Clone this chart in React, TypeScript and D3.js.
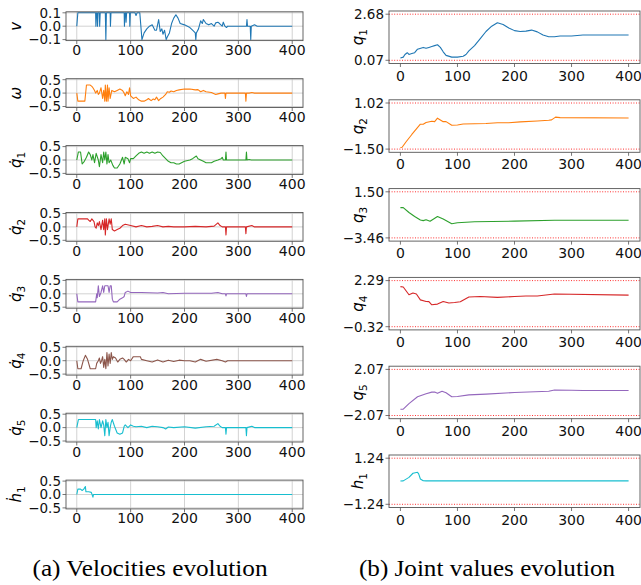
import React from 'react';
import * as d3 from 'd3';

// [step, value] pairs
const vel_v = [[0,0],[2,0.1],[35,0.1],[35.5,0],[36.5,0.1],[38,0.1],[38.5,0],[39.5,0.1],[42,0.1],[42.5,0],[43.5,0.1],[53,0.1],[54,-0.1],[55,0.1],[62,0.1],[62.5,0],[63.5,0.1],[88,0.1],[88.5,0],[89.5,0.1],[91,0.1],[91.5,0.03],[92.5,0.1],[98,0.1],[98.5,0],[99.5,0.1],[108,0.1],[110,0.08],[112,0.1],[117,0.1],[121,-0.1],[125,-0.05],[130,-0.02],[135,0],[140,0.01],[145,-0.03],[148,-0.03],[152,0.05],[155,-0.04],[158,-0.02],[160,-0.06],[163,-0.03],[166,-0.1],[168,-0.08],[172,-0.05],[176,0.02],[180,0.06],[184,0.085],[188,0.06],[192,0.02],[200,0.01],[210,-0.01],[215,-0.03],[220,-0.05],[221,-0.1],[222,-0.05],[226,-0.02],[230,0.04],[233,0.02],[235,0.05],[240,0.02],[245,0.01],[250,0.02],[255,0],[258,0.025],[262,0.03],[265,0.02],[270,0],[272,0.03],[275,0],[278,-0.01],[280,0],[315,0],[316,0.05],[317,0],[322,0],[323,-0.1],[324,0],[330,0.01],[335,0],[400,0]];
const vel_w = [[0,0],[2,-0.3],[15,-0.3],[18,0.3],[25,0.3],[28,0.25],[30,0.2],[33,0.1],[35,0],[38,0.1],[40,-0.05],[42,0],[45,0.2],[48,-0.2],[50,0.1],[52,-0.3],[53,0.3],[55,-0.3],[57,0.3],[58,-0.3],[60,0.2],[62,-0.2],[65,0.1],[70,0.05],[75,0.1],[80,0.15],[85,0.1],[88,0],[90,-0.1],[93,0.05],[96,-0.05],[98,0.2],[100,-0.1],[105,-0.2],[110,-0.15],[115,-0.25],[120,-0.3],[125,-0.3],[130,-0.25],[133,-0.2],[138,-0.28],[142,-0.22],[145,-0.25],[148,-0.15],[152,-0.28],[156,-0.2],[160,-0.15],[165,-0.05],[168,0.05],[172,0.03],[175,0.08],[180,0.05],[185,0.1],[190,0.12],[200,0.15],[210,0.15],[220,0.12],[225,0.13],[230,0.05],[235,0.1],[240,0.05],[250,0.02],[258,-0.05],[262,-0.03],[268,0],[275,0],[276,-0.2],[277,0],[313,0],[314,-0.3],[315,0],[320,0],[325,0.02],[330,0],[400,0]];
const vel_q1 = [[0,0],[3,0.3],[7,0.3],[10,-0.15],[14,-0.05],[18,0.1],[22,0.3],[25,0.2],[28,0],[30,0.2],[33,-0.1],[36,0.25],[40,0],[42,-0.25],[45,0.2],[48,-0.1],[50,0.3],[52,0],[54,0.3],[56,-0.15],[58,0.2],[60,-0.1],[63,0],[67,-0.2],[70,-0.3],[75,-0.3],[80,-0.15],[85,0.1],[88,-0.15],[90,0.1],[95,0.05],[98,-0.1],[100,0.05],[105,0.05],[110,0.15],[115,0.25],[120,0.3],[125,0.25],[130,0.3],[135,0.25],[140,0.3],[145,0.25],[150,0.3],[155,0.28],[160,0.15],[165,0.05],[170,-0.05],[175,-0.1],[180,-0.1],[185,-0.15],[190,-0.15],[200,-0.05],[210,0],[215,0.05],[222,0.15],[225,0.05],[230,0],[235,-0.05],[240,-0.1],[250,-0.1],[255,-0.05],[262,0],[268,0.05],[270,0.1],[272,0],[276,0],[277,0.3],[278,0],[314,0],[315,0.3],[316,0],[320,0.02],[324,0],[400,0]];
const vel_q2 = [[0,0],[2,0.3],[20,0.3],[22,0.25],[25,0.2],[28,0.3],[32,0.2],[34,0],[36,-0.05],[38,0.15],[40,0.05],[42,0.2],[45,-0.1],[48,0.25],[50,-0.1],[52,0.3],[53,-0.3],[55,0.3],[57,-0.1],[60,0.3],[62,0.1],[64,0.3],[66,-0.1],[70,-0.15],[75,-0.1],[80,-0.05],[85,0.05],[90,0.1],[100,0.05],[110,0],[120,0.05],[130,0],[140,0.02],[150,0.05],[160,0],[170,0.02],[180,0],[200,0],[220,0.02],[240,0],[255,0.03],[262,0.15],[266,0.05],[270,0],[276,0],[277,-0.3],[278,0],[313,0],[314,-0.25],[315,0],[325,0.05],[330,0],[400,0]];
const vel_q3 = [[0,0],[2,-0.3],[35,-0.3],[37,0],[38,-0.15],[40,0.3],[42,-0.1],[45,0.05],[48,0.3],[50,0.05],[52,0.3],[58,0.3],[60,0.05],[62,0.3],[64,0.3],[66,-0.2],[68,-0.3],[75,-0.3],[80,-0.2],[85,-0.15],[88,-0.1],[90,0.05],[95,0.1],[100,0.05],[110,0.05],[120,0.05],[150,0.03],[160,0.05],[170,0],[200,0.02],[250,0.02],[262,0.05],[270,0],[276,0],[277,-0.08],[278,0],[314,0],[315,-0.1],[316,0],[400,0]];
const vel_q4 = [[0,0],[2,-0.3],[8,-0.3],[12,0],[16,0.2],[20,0.05],[25,-0.3],[35,-0.3],[37,-0.1],[40,0],[42,0.1],[44,-0.1],[46,0],[48,0.15],[50,-0.25],[52,0.05],[54,-0.3],[56,0.3],[58,-0.2],[60,0.25],[62,-0.1],[64,0.3],[66,0.05],[68,0.15],[72,0.1],[76,-0.05],[80,0.05],[85,0.1],[88,0.05],[92,-0.05],[96,0.05],[100,0],[105,0.15],[110,0.15],[118,0.15],[120,0.05],[130,0],[140,-0.05],[150,0.03],[160,-0.05],[170,0.02],[180,-0.03],[190,0.02],[200,0],[210,0],[220,-0.05],[230,0.05],[240,-0.02],[260,0.05],[270,0],[276,-0.05],[280,0],[400,0]];
const vel_q5 = [[0,0],[3,0.3],[35,0.3],[36,0],[38,0.25],[40,-0.05],[42,0.3],[45,0],[48,0.25],[50,0.1],[52,-0.3],[54,0.3],[56,0],[58,0.2],[60,-0.3],[62,0],[64,0.2],[66,0.3],[70,0.05],[75,-0.2],[80,-0.25],[85,-0.2],[88,0.05],[90,0.1],[95,0],[100,0.1],[105,0.05],[110,0.03],[120,0.05],[130,0],[140,0.05],[150,0.03],[160,0],[165,-0.05],[170,0.02],[180,0],[200,0.03],[220,-0.02],[240,0.03],[255,0.05],[262,0.15],[266,0.05],[270,0],[276,0],[277,-0.25],[278,0],[314,0],[315,-0.3],[316,0],[325,0.05],[330,0],[400,0]];
const vel_h1 = [[0,0],[2,0.2],[7,0.2],[10,0.15],[13,0.2],[16,0.3],[17,0.1],[22,0.1],[27,0.08],[30,-0.1],[31,0],[400,0]];

const joint_q1 = [[0,0.2],[5,0.25],[8,0.4],[12,0.5],[15,0.4],[20,0.45],[25,0.5],[30,0.7],[40,0.8],[45,0.75],[50,0.8],[55,0.85],[60,0.9],[65,0.95],[70,0.8],[75,0.55],[80,0.35],[90,0.25],[100,0.25],[110,0.3],[115,0.4],[120,0.6],[130,0.9],[140,1.3],[150,1.7],[160,2.0],[170,2.2],[180,2.1],[190,1.9],[200,1.75],[210,1.7],[220,1.72],[230,1.78],[240,1.68],[250,1.5],[260,1.4],[270,1.4],[280,1.45],[300,1.45],[320,1.5],[400,1.5]];
const joint_q2 = [[0,-1.41],[3,-1.4],[10,-1.1],[20,-0.7],[35,-0.14],[40,-0.14],[45,-0.05],[55,0.02],[60,0],[65,0.19],[75,0],[80,0],[90,-0.2],[100,-0.18],[110,-0.13],[150,-0.1],[170,-0.06],[190,-0.06],[210,-0.01],[240,0.04],[260,0.08],[265,0.1],[272,0.25],[280,0.22],[400,0.2]];
const joint_q3 = [[0,-0.2],[5,-0.2],[15,-0.73],[25,-1.16],[35,-1.53],[40,-1.6],[45,-1.5],[52,-1.66],[65,-1.16],[75,-1.43],[90,-1.93],[100,-1.83],[130,-1.73],[200,-1.66],[270,-1.56],[400,-1.56]];
const joint_q4 = [[0,1.95],[5,1.93],[15,1.49],[22,1.59],[28,1.53],[35,1.2],[45,1.11],[50,1.1],[55,0.92],[65,0.96],[75,1.11],[85,1.02],[95,1.05],[105,1.09],[120,1.36],[140,1.39],[170,1.34],[200,1.39],[220,1.42],[240,1.42],[270,1.53],[400,1.47]];
const joint_q5 = [[0,-1.51],[5,-1.5],[15,-1.0],[30,-0.39],[45,-0.11],[55,0.03],[60,0.03],[65,-0.08],[73,0.11],[80,-0.03],[90,-0.39],[100,-0.36],[120,-0.22],[150,-0.15],[200,0],[260,0.11],[270,0.22],[300,0.2],[320,0.17],[400,0.17]];
const joint_h1 = [[0,0.01],[5,0.02],[15,0.21],[22,0.43],[30,0.48],[32,0.4],[35,0.12],[40,0.03],[45,0.02],[400,0.02]];

const joint_lo = [0.07, -1.5, -3.46, -0.32, -2.07, -1.24];
const joint_hi = [2.68, 1.02, 1.5, 2.29, 2.07, 1.24];
const jointLimitLabels = [["0.07", "2.68"], ["−1.50", "1.02"], ["−3.46", "1.50"], ["−0.32", "2.29"], ["−2.07", "2.07"], ["−1.24", "1.24"]];

const velSeries = [vel_v, vel_w, vel_q1, vel_q2, vel_q3, vel_q4, vel_q5, vel_h1];
const jointSeries = [joint_q1, joint_q2, joint_q3, joint_q4, joint_q5, joint_h1];
const velLabels = [["v", ""], ["ω", ""], ["q̇", "1"], ["q̇", "2"], ["q̇", "3"], ["q̇", "4"], ["q̇", "5"], ["ḣ", "1"]];
const jointLabels = [["q", "1"], ["q", "2"], ["q", "3"], ["q", "4"], ["q", "5"], ["h", "1"]];
const velColors = ["#1f77b4", "#ff7f0e", "#2ca02c", "#d62728", "#9467bd", "#8c564b", "#17becf", "#17becf"];
const jointColors = ["#1f77b4", "#ff7f0e", "#2ca02c", "#d62728", "#9467bd", "#17becf"];
const xTicks = [0, 100, 200, 300, 400];

const fmt = (v: number, d: number) => d3.format(`.${d}f`)(v).replace('-', '−');

const tickFont = "DejaVu Sans";
const capFont = "'Times New Roman', 'Liberation Serif', Times, serif";

const YLabel = ({ x, y, lab }: { x: number, y: number, lab: string[] }) => (
    <text transform={`translate(${x},${y}) rotate(-90)`} textAnchor="middle"
        fontFamily="DejaVu Sans" fontStyle="italic" fontSize={15} fill="#000" dy="0.35em">
        {lab[0]}
        {lab[1] && <tspan fontStyle="normal" fontSize={10.5} dy={4}>{lab[1]}</tspan>}
    </text>
);

const Panel = ({ data, color, top, left, right, height, yTicks, yDomain, tickLabels, grid, limits, lab, labX, xLabOff, pad }: any) => {
    const x = d3.scaleLinear().domain([-20, 420]).range([left, right]);
    const y = d3.scaleLinear().domain(yDomain).range([top + height - pad, top + pad]);
    const line = d3.line<number[]>().x(d => x(d[0])).y(d => y(d[1]));
    const bottom = top + height;
    return (
        <g>
            {grid && xTicks.map(t => (
                <line key={'gx' + t} x1={x(t)} x2={x(t)} y1={top} y2={bottom} stroke="#c8c8c8" strokeWidth={0.8} />
            ))}
            {grid && yTicks.map((t: number) => (
                <line key={'gy' + t} x1={left} x2={right} y1={y(t)} y2={y(t)} stroke="#c8c8c8" strokeWidth={0.8} />
            ))}
            {limits && limits.map((t: number, i: number) => (
                <line key={'lim' + i} x1={left} x2={right} y1={y(t)} y2={y(t)} stroke="#ff3030" strokeWidth={1} strokeDasharray="1,1.6" />
            ))}
            <path d={line(data) || ''} fill="none" stroke={color} strokeWidth={1.1} strokeLinejoin="round" />
            <rect x={left} y={top} width={right - left} height={height} fill="none" stroke="#555" strokeWidth={0.9} />
            {xTicks.map(t => (
                <g key={'xt' + t}>
                    <line x1={x(t)} x2={x(t)} y1={bottom} y2={bottom + 3.5} stroke="#555" strokeWidth={0.8} />
                    <text x={x(t)} y={bottom + xLabOff} textAnchor="middle" fontFamily={tickFont} fontSize={14} fill="#111">{t}</text>
                </g>
            ))}
            {yTicks.map((t: number, i: number) => (
                <g key={'yt' + i}>
                    <line x1={left - 3.5} x2={left} y1={y(t)} y2={y(t)} stroke="#555" strokeWidth={0.8} />
                    <text x={left - 5} y={y(t)} dy="0.36em" textAnchor="end" fontFamily={tickFont} fontSize={13.5} fill="#111">{tickLabels[i]}</text>
                </g>
            ))}
            <YLabel x={labX} y={top + height / 2} lab={lab} />
        </g>
    );
};

const App = () => {
    const W = 641, H = 585;
    return (
        <svg width={W} height={H} style={{ position: 'absolute', left: 0, top: 0, background: '#fff' }}>
            {velSeries.map((s, i) => {
                const lim = i === 0 ? 0.1 : 0.5;
                const ticks = [lim, 0, -lim];
                return (
                    <Panel key={'v' + i} data={s} color={velColors[i]} top={11.8 + i * 66.9} height={28.8}
                        left={66} right={303} yTicks={ticks} yDomain={[-lim, lim]} pad={1}
                        tickLabels={ticks.map(t => fmt(t, 1))} grid={true} lab={velLabels[i]}
                        labX={16} xLabOff={14.5} />
                );
            })}
            {jointSeries.map((s, i) => {
                const ticks = [joint_lo[i], joint_hi[i]];
                return (
                    <Panel key={'j' + i} data={s} color={jointColors[i]} top={11 + i * 88.8} height={52.5}
                        left={389} right={640} yTicks={ticks} yDomain={ticks} pad={3.2}
                        tickLabels={jointLimitLabels[i]} grid={false} limits={ticks} lab={jointLabels[i]}
                        labX={358} xLabOff={17} />
                );
            })}
            <text x={150} y={576} textAnchor="middle" fontFamily={capFont} fontSize={23}
                textLength={235} lengthAdjust="spacingAndGlyphs">(a) Velocities evolution</text>
            <text x={487} y={576} textAnchor="middle" fontFamily={capFont} fontSize={23}
                textLength={256} lengthAdjust="spacingAndGlyphs">(b) Joint values evolution</text>
        </svg>
    );
};

export default App;
